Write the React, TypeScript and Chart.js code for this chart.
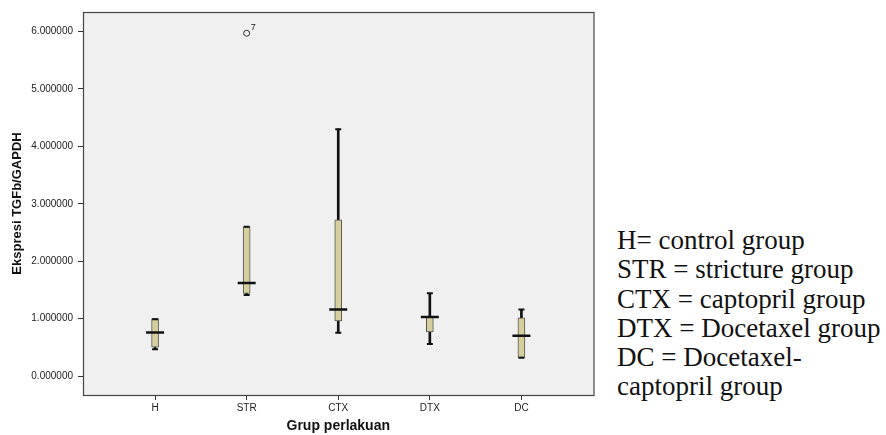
import React, { useEffect, useRef } from "react";
import { Chart, registerables } from "chart.js";

Chart.register(...registerables);

const categories = ["H", "STR", "CTX", "DTX", "DC"];
const whiskerLow = [0.465, 1.41, 0.755, 0.56, 0.32];
const q1 = [0.505, 1.44, 0.96, 0.77, 0.325];
const median = [0.76, 1.62, 1.16, 1.03, 0.7];
const q3 = [1.0, 2.6, 2.72, 1.03, 1.016];
const whiskerHigh = [0.99, 2.6, 4.3, 1.44, 1.16];
const outlierGroup = [1];
const outlierValue = [5.97];
const outlierLabel = ["7"];
const yTicks = [0, 1, 2, 3, 4, 5, 6];
const legendLines = [
  "H= control group",
  "STR = stricture group",
  "CTX = captopril group",
  "DTX = Docetaxel group",
  "DC = Docetaxel-",
  "captopril group",
];

const plotFrame = {
  id: "plotFrame",
  beforeDraw(chart: any) {
    const { ctx, chartArea } = chart;
    ctx.save();
    ctx.fillStyle = "#f0f0f0";
    ctx.fillRect(chartArea.left, chartArea.top, chartArea.right - chartArea.left, chartArea.bottom - chartArea.top);
    ctx.restore();
  },
  afterDraw(chart: any) {
    const { ctx, chartArea } = chart;
    ctx.save();
    ctx.strokeStyle = "#444";
    ctx.lineWidth = 1.2;
    ctx.strokeRect(chartArea.left + 0.5, chartArea.top + 0.5, chartArea.right - chartArea.left, chartArea.bottom - chartArea.top);
    const idx = chart.data.datasets.findIndex((d: any) => d.label === "outlier");
    if (idx >= 0) {
      const meta = chart.getDatasetMeta(idx);
      ctx.fillStyle = "#222";
      ctx.font = "9px Arial, 'Liberation Sans', sans-serif";
      ctx.textAlign = "left";
      ctx.textBaseline = "bottom";
      meta.data.forEach((pt: any, i: number) => {
        ctx.fillText(outlierLabel[i], pt.x + 4, pt.y - 1);
      });
    }
    ctx.restore();
  },
};

export default function App() {
  const ref = useRef<HTMLCanvasElement | null>(null);
  useEffect(() => {
    if (!ref.current) return;
    const xs = categories.map((_, i) => i);
    const chart = new Chart(ref.current, {
      type: "bar",
      data: {
        datasets: [
          {
            type: "bar",
            label: "whisker",
            data: xs.map((x) => ({ x, y: [whiskerLow[x], whiskerHigh[x]] })) as any,
            backgroundColor: "#111",
            borderWidth: 0,
            barThickness: 2,
            grouped: false,
            order: 4,
          } as any,
          {
            type: "bar",
            label: "box",
            data: xs.map((x) => ({ x, y: [q1[x], q3[x]] })) as any,
            backgroundColor: "#d5cf9c",
            borderColor: "#555",
            borderWidth: 1,
            borderSkipped: false,
            barThickness: 7,
            grouped: false,
            order: 3,
          } as any,
          {
            type: "scatter",
            label: "caps",
            data: [
              ...xs.map((x) => ({ x, y: whiskerLow[x] })),
              ...xs.map((x) => ({ x, y: whiskerHigh[x] })),
            ],
            pointStyle: "line",
            pointRadius: 3,
            borderColor: "#111",
            borderWidth: 2,
            order: 2,
          } as any,
          {
            type: "scatter",
            label: "median",
            data: xs.map((x) => ({ x, y: median[x] })),
            pointStyle: "line",
            pointRadius: 9,
            borderColor: "#111",
            borderWidth: 2.5,
            order: 1,
          } as any,
          {
            type: "scatter",
            label: "outlier",
            data: outlierGroup.map((g, i) => ({ x: g, y: outlierValue[i] })),
            pointStyle: "circle",
            pointRadius: 3,
            backgroundColor: "rgba(0,0,0,0)",
            borderColor: "#333",
            borderWidth: 1,
            order: 0,
          } as any,
        ],
      },
      options: {
        animation: false,
        responsive: false,
        maintainAspectRatio: false,
        layout: { padding: { left: 0, right: 2, top: 12, bottom: 0 } },
        plugins: { legend: { display: false }, tooltip: { enabled: false } },
        scales: {
          x: {
            type: "linear",
            offset: false,
            min: -0.787,
            max: 4.787,
            afterBuildTicks: (s: any) => {
              s.ticks = categories.map((_, i) => ({ value: i }));
            },
            afterFit: (s: any) => {
              s.height = 40;
            },
            ticks: {
              callback: (v: any) => categories[v as number] ?? "",
              color: "#222",
              font: { family: "Arial, 'Liberation Sans', sans-serif", size: 10 },
              padding: 2,
              maxRotation: 0,
              autoSkip: false,
            },
            grid: { display: true, offset: false, drawOnChartArea: false, drawTicks: true, tickLength: 5, color: "#333", lineWidth: 1 },
            border: { display: true, color: "#444", width: 1 },
            title: {
              display: true,
              text: "Grup perlakuan",
              color: "#111",
              font: { family: "Arial, 'Liberation Sans', sans-serif", size: 14, weight: "bold" },
              padding: { top: 3, bottom: 0 },
            },
          },
          y: {
            type: "linear",
            min: -0.33,
            max: 6.34,
            afterBuildTicks: (s: any) => {
              s.ticks = yTicks.map((v) => ({ value: v }));
            },
            afterFit: (s: any) => {
              s.width = 83;
            },
            ticks: {
              callback: (v: any) => Number(v).toFixed(6),
              color: "#222",
              font: { family: "Arial, 'Liberation Sans', sans-serif", size: 10 },
              padding: 5,
            },
            grid: { display: true, drawOnChartArea: false, drawTicks: true, tickLength: 5, color: "#333", lineWidth: 1 },
            border: { display: true, color: "#444", width: 1 },
            title: {
              display: true,
              text: "Ekspresi TGFb/GAPDH",
              color: "#111",
              font: { family: "Arial, 'Liberation Sans', sans-serif", size: 13, weight: "bold" },
              padding: { top: 10, bottom: 6 },
            },
          },
        },
      } as any,
      plugins: [plotFrame],
    });
    return () => chart.destroy();
  }, []);

  return (
    <div style={{ position: "absolute", left: 0, top: 0, width: 886, height: 435, background: "#fff", overflow: "hidden" }}>
      <canvas ref={ref} width={605} height={435} style={{ position: "absolute", left: 0, top: 0, width: 605, height: 435 }} />
      <div
        style={{
          position: "absolute",
          left: 617,
          top: 226,
          fontFamily: "'Liberation Serif', 'Times New Roman', serif",
          fontSize: 27,
          lineHeight: "29.3px",
          color: "#111",
          whiteSpace: "nowrap",
        }}
      >
        {legendLines.map((l, i) => (
          <div key={i}>{l}</div>
        ))}
      </div>
    </div>
  );
}
